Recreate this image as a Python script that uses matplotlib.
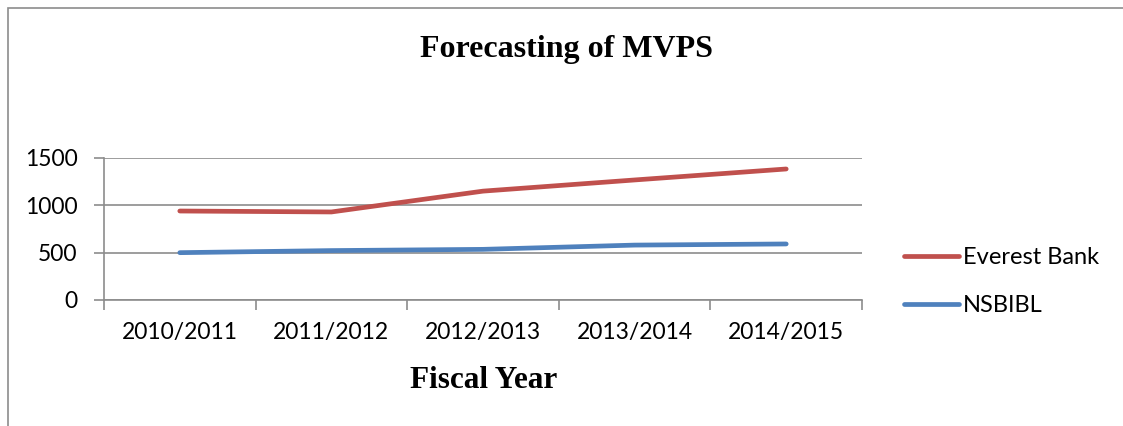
import matplotlib
matplotlib.use("Agg")
import matplotlib.pyplot as plt
from matplotlib.patches import Rectangle
import numpy as np

years = ["2010/2011", "2011/2012", "2012/2013", "2013/2014", "2014/2015"]
everest = [940, 930, 1150, 1268, 1384]
nsbibl = [500, 522, 535, 580, 592]

fig = plt.figure(figsize=(11.23, 4.26), dpi=100)
fig.patches.append(Rectangle((8/1123, -0.1), 1.2, 1 - 8/426 + 0.1, transform=fig.transFigure,
                             fill=False, edgecolor="#8c8c8c", linewidth=1.2))

ax = fig.add_axes([104/1123, 1 - 300/426, (862-104)/1123, (300-158)/426])
x = np.arange(len(years))
ax.plot(x, everest, color="#C0504D", lw=3.4, solid_capstyle="round", label="Everest Bank")
ax.plot(x, nsbibl, color="#4F81BD", lw=3.4, solid_capstyle="round", label="NSBIBL")

ax.set_xlim(-0.5, len(years) - 0.5)
ax.set_ylim(0, 1500)
ax.set_yticks([0, 500, 1000, 1500])
ax.yaxis.grid(True, color="#8c8c8c", lw=1.2)
ax.set_axisbelow(True)
ax.set_xticks(x)
ax.set_xticklabels(years)
ax.set_xticks(np.arange(-0.5, len(years)), minor=True)
ax.tick_params(axis="x", which="major", length=0, pad=16, labelsize=16.5)
ax.tick_params(axis="x", which="minor", length=7, color="#8c8c8c", width=1.2, direction="out")
ax.tick_params(axis="y", length=7, color="#8c8c8c", width=1.2, direction="out", pad=12, labelsize=16.5)
for lab in ax.get_xticklabels() + ax.get_yticklabels():
    lab.set_fontfamily("Lato")
for s in ["top", "right"]:
    ax.spines[s].set_visible(False)
for s in ["left", "bottom"]:
    ax.spines[s].set_color("#8c8c8c")
    ax.spines[s].set_linewidth(1.2)

fig.text(567/1123, 1 - 49/426, "Forecasting of MVPS", ha="center", va="center",
         fontfamily="Liberation Serif", fontweight="bold", fontsize=23)
fig.text(484/1123, 1 - 381/426, "Fiscal Year", ha="center", va="center",
         fontfamily="Liberation Serif", fontweight="bold", fontsize=22.5)

leg = fig.legend(loc="upper left", bbox_to_anchor=(883/1123, 1 - 226/426), frameon=False,
                 prop={"family": "Lato", "size": 17}, handlelength=2.3, handletextpad=0.2,
                 labelspacing=1.15)
fig.savefig("out.png", dpi=100)
